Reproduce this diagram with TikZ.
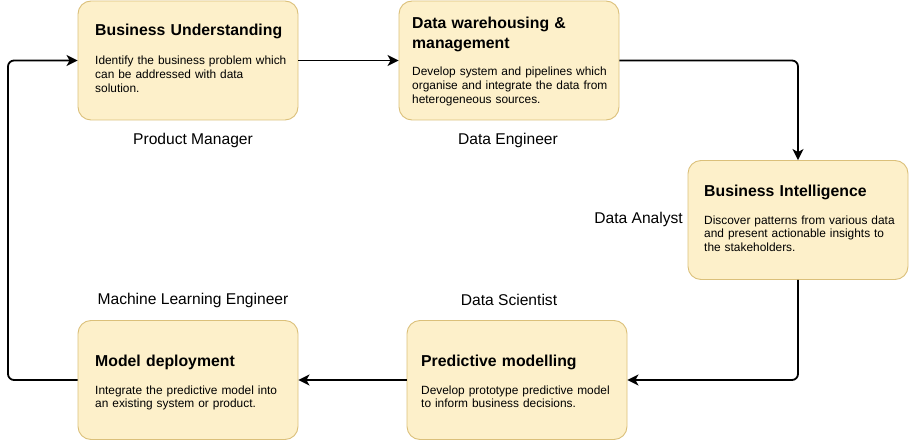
\documentclass[tikz,border=0pt]{standalone}
\usepackage{fontspec}
\setmainfont{Liberation Sans}
\usetikzlibrary{arrows.meta}
\definecolor{boxfill}{HTML}{FDF0CA}
\definecolor{boxline}{HTML}{DBC07A}
\tikzset{
  stage/.style={draw=boxline, fill=boxfill, line width=0.9pt, rounded corners=13pt,
    minimum width=220pt, minimum height=119pt, inner sep=0pt},
  ttl/.style={anchor=base west, inner sep=0pt, text width=205pt, align=left,
    font=\bfseries\fontsize{15.8}{20}\selectfont},
  bodytxt/.style={anchor=base west, inner sep=0pt, text width=205pt, align=left,
    font=\fontsize{11.9}{13.6}\selectfont},
  role/.style={inner sep=0pt, font=\fontsize{15.6}{18}\selectfont},
  conn/.style={draw=black, line width=1.8pt, rounded corners=6pt,
    -{Stealth[length=11pt, width=11pt, inset=3pt]}},
}
\begin{document}
\begin{tikzpicture}[x=1pt, y=-1pt]
\useasboundingbox (0,0) rectangle (919,441);
% boxes
\node[stage] (bu) at (188,60.5) {};
\node[stage] (dw) at (509,60.5) {};
\node[stage] (bi) at (798,220) {};
\node[stage] (md) at (188,380) {};
\node[stage] (pm) at (517,380) {};
% box texts
\node[ttl] (bu-t) at (95,35.5) {Business Understanding};
\node[bodytxt] (bu-b) at (95,65) {Identify the business problem which\\can be addressed with data\\solution.};
\node[ttl] (dw-t) at (412,28.5) {Data warehousing \&\\management};
\node[bodytxt] (dw-b) at (412,76) {Develop system and pipelines which\\organise and integrate the data from\\heterogeneous sources.};
\node[ttl] (bi-t) at (704,196.5) {Business Intelligence};
\node[bodytxt] (bi-b) at (704,224) {Discover patterns from various data\\and present actionable insights to\\the stakeholders.};
\node[ttl] (md-t) at (95,366.5) {Model deployment};
\node[bodytxt] (md-b) at (95,394) {Integrate the predictive model into\\an existing system or product.};
\node[ttl] (pm-t) at (421,366.5) {Predictive modelling};
\node[bodytxt] (pm-b) at (421,394) {Develop prototype predictive model\\to inform business decisions.};
% roles
\node[role] (r1) at (193,140) {Product Manager};
\node[role] (r2) at (508,140) {Data Engineer};
\node[role, anchor=east] (r3) at (683,219) {Data Analyst};
\node[role] (r4) at (193,300) {Machine Learning Engineer};
\node[role] (r5) at (509,300) {Data Scientist};
% connectors
\coordinate (loop) at (8,380);
\draw[conn] (bu.east) -- (dw.west);
\draw[conn] (dw.east) -| (bi.north);
\draw[conn] (bi.south) |- (pm.east);
\draw[conn] (pm.west) -- (md.east);
\draw[conn] (md.west) -- (loop) |- (bu.west);
\end{tikzpicture}
\end{document}
